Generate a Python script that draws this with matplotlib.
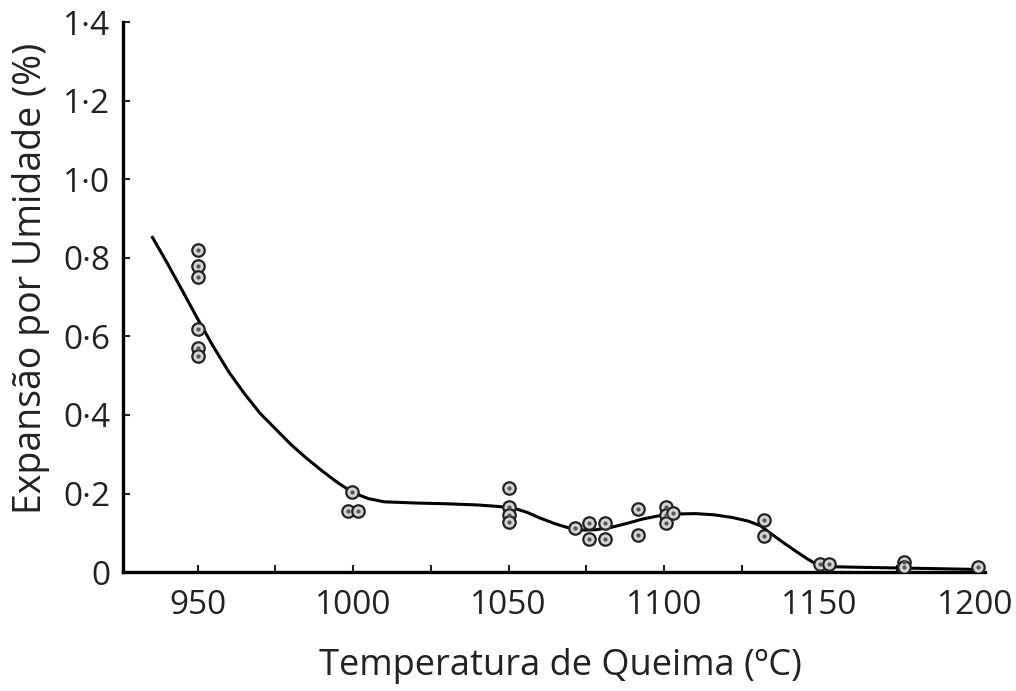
import matplotlib
matplotlib.use('Agg')
import matplotlib.pyplot as plt
from matplotlib.ticker import FuncFormatter, MultipleLocator

plt.rcParams['font.family'] = ['Open Sans', 'DejaVu Sans']

# medições individuais (temperatura, expansão)
temp_pts = [950, 950, 950, 950, 950, 950,
            999.5, 998.3, 1001.5,
            1050, 1050, 1050, 1050,
            1071.5, 1076, 1076, 1081, 1081,
            1091.5, 1091.5,
            1100.5, 1100.5, 1100.5, 1103,
            1132, 1132,
            1150, 1153, 1177, 1177, 1201]
exp_pts = [0.82, 0.78, 0.75, 0.62, 0.57, 0.55,
           0.205, 0.155, 0.155,
           0.213, 0.165, 0.145, 0.127,
           0.112, 0.124, 0.084, 0.124, 0.084,
           0.162, 0.094,
           0.165, 0.145, 0.124, 0.15,
           0.132, 0.091,
           0.02, 0.02, 0.025, 0.012, 0.012]

# curva de tendência
temp_curve = [935.5, 940, 945, 950, 955, 960, 965, 970, 975, 980, 985, 990,
              995, 1000, 1005, 1010, 1020, 1030, 1040, 1047, 1052, 1056,
              1060, 1065, 1070, 1074, 1078, 1083, 1088, 1093, 1098, 1104,
              1110, 1116, 1122, 1127, 1131, 1134, 1138, 1142, 1146, 1149,
              1153, 1165, 1180, 1200]
exp_curve = [0.852, 0.79, 0.718, 0.645, 0.575, 0.51, 0.455, 0.405, 0.365,
             0.325, 0.29, 0.258, 0.228, 0.202, 0.187, 0.179, 0.176, 0.174,
             0.171, 0.167, 0.162, 0.152, 0.138, 0.123, 0.111, 0.107, 0.108,
             0.114, 0.124, 0.135, 0.143, 0.148, 0.149, 0.146, 0.139, 0.13,
             0.118, 0.1, 0.077, 0.055, 0.034, 0.02, 0.014, 0.012, 0.01, 0.007]

fig = plt.figure(figsize=(10.16, 6.91), dpi=100)
ax = fig.add_axes([0.121, 0.172, 0.848, 0.796])

ax.plot(temp_curve, exp_curve, color='black', lw=2.2, zorder=2,
        solid_joinstyle='round')
ax.scatter(temp_pts, exp_pts, s=80, facecolor='#d4d4d4', edgecolor='#222222',
           linewidth=1.6, zorder=3)
ax.scatter(temp_pts, exp_pts, s=4, color='#555555', zorder=4)

ax.set_xlim(926, 1203)
ax.set_ylim(0, 1.4)
ax.xaxis.set_major_locator(MultipleLocator(50))
ax.xaxis.set_minor_locator(MultipleLocator(25))
ax.yaxis.set_major_locator(MultipleLocator(0.2))
ax.yaxis.set_major_formatter(FuncFormatter(
    lambda v, p: '0' if abs(v) < 1e-9 else f'{v:.1f}'.replace('.', '·')))

for s in ['top', 'right']:
    ax.spines[s].set_visible(False)
for s in ['left', 'bottom']:
    ax.spines[s].set_linewidth(2.4)

ax.tick_params(axis='both', which='both', direction='in', width=1.5,
               length=5, labelsize=24, colors='#222222')
ax.tick_params(axis='x', pad=12)
ax.tick_params(axis='y', pad=9)

ax.set_xlabel('Temperatura de Queima (ºC)', fontsize=26, color='#222222')
ax.xaxis.label.set_va('center')
ax.xaxis.set_label_coords(0.508, (572 - 666) / 550)

ax.set_ylabel('Expansão por Umidade (%)', fontsize=27, color='#222222')
ax.yaxis.label.set_va('center')
ax.yaxis.set_label_coords((31 - 123) / 862, (572 - 278) / 550)

fig.savefig('out.png', dpi=100)
